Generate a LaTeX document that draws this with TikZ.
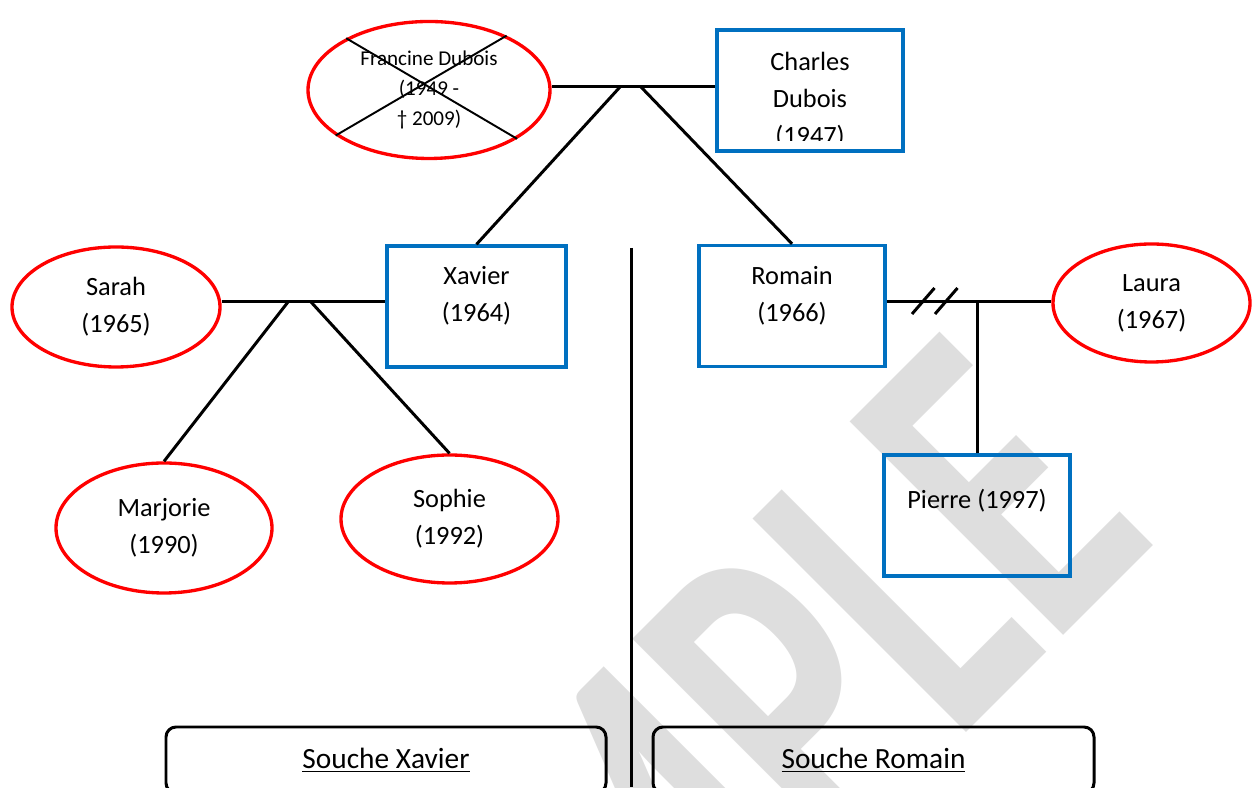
\documentclass[tikz,border=0pt]{standalone}
\usepackage{fontspec}
\setmainfont{Carlito}
\usetikzlibrary{shapes.geometric}
\definecolor{bleu}{HTML}{0070C0}
\definecolor{rouge}{HTML}{FF0000}
\definecolor{filigrane}{HTML}{DEDEDE}

\begin{document}
\begin{tikzpicture}[
		lien/.style = {line width=1.7pt},
		homme/.style = {draw=bleu, line width=1.9pt, minimum width=3.72cm, minimum height=2.42cm},
		femme/.style = {ellipse, draw=rouge, line width=1.9pt, align=center, font=\fontsize{15}{21}\selectfont},
		nom/.style = {align=center, font=\fontsize{15}{21}\selectfont},
		souche/.style = {draw, rounded corners=0.2cm, line width=1.7pt, minimum width=8.8cm, minimum height=1.32cm, font=\fontsize{16.7}{20}\selectfont}
	]
		\useasboundingbox (0,0) rectangle (25.04,15.74);
		\node[rotate=45, xscale=0.69, inner sep=0, text=filigrane, font=\fontsize{265}{265}\selectfont\bfseries] (filigrane) at (13.4,-0.56) {SAMPLE};

		\node[femme, minimum width=4.84cm, minimum height=2.74cm, font=\fontsize{12}{17}\selectfont] (francine) at (8.58,13.94) {Francine Dubois\\(1949 -\\† 2009)};
		\draw[line width=1.1pt] (francine.148) -- (francine.-29);
		\draw[line width=1.1pt] (francine.206) -- (francine.35);
		\node[homme] (charles) at (16.2,13.93) {};
		\begin{scope}
			\clip (charles.north west) rectangle ([yshift=0.25cm]charles.south east);
			\node[nom] (charles-t) at ([yshift=-0.19cm]charles.center) {Charles\\Dubois\\(1947)};
		\end{scope}

		\node[homme, minimum width=3.58cm] (xavier) at (9.53,9.61) {};
		\node[nom] (xavier-t) at ([yshift=0.22cm]xavier.center) {Xavier\\(1964)};
		\node[homme] (romain) at (15.84,9.62) {};
		\node[nom] (romain-t) at ([yshift=0.21cm]romain.center) {Romain\\(1966)};
		\node[homme] (pierre) at (19.54,5.43) {};
		\node[nom] (pierre-t) at ([yshift=0.3cm]pierre.center) {Pierre (1997)};

		\node[femme, minimum width=4.16cm, minimum height=2.4cm] (sarah) at (2.32,9.6) {Sarah\\(1965)};
		\node[femme, minimum width=4.32cm, minimum height=2.6cm] (marjorie) at (3.28,5.18) {Marjorie\\(1990)};
		\node[femme, minimum width=4.34cm, minimum height=2.56cm] (sophie) at (8.99,5.36) {Sophie\\(1992)};
		\node[femme, minimum width=3.94cm, minimum height=2.36cm] (laura) at (23.03,9.68) {Laura\\(1967)};

		\coordinate (m1) at (0,14.0);
		\coordinate (m2) at (0,9.7);
		\coordinate (e1) at (12.4,14.0);
		\coordinate (e2) at (12.82,14.0);
		\coordinate (e3) at (5.76,9.7);
		\coordinate (e4) at (6.22,9.7);
		\coordinate (sep-haut) at (12.62,10.78);
		\coordinate (sep-bas) at (12.62,0);

		\draw[lien] (francine.east |- m1) -- (charles.west |- m1);
		\draw[lien] (e1) -- (xavier.north);
		\draw[lien] (e2) -- (romain.north);
		\draw[lien] (sarah.east |- m2) -- (xavier.west |- m2);
		\draw[lien] (e3) -- (marjorie.north);
		\draw[lien] (e4) -- (sophie.north);
		\draw[lien] (romain.east |- m2) -- (laura.west |- m2);
		\foreach \x in {18.24,18.7}
			\draw[lien] (\x,9.46) -- ++(0.45,0.52);
		\draw[lien] (pierre.north) -- (pierre.north |- m2);
		\draw[lien] (sep-haut) -- (sep-bas);

		\node[souche] (souche-x) at (7.72,0.54) {\underline{Souche Xavier}};
		\node[souche, minimum width=8.82cm] (souche-r) at (17.47,0.54) {\underline{Souche Romain}};
	\end{tikzpicture}
\end{document}
